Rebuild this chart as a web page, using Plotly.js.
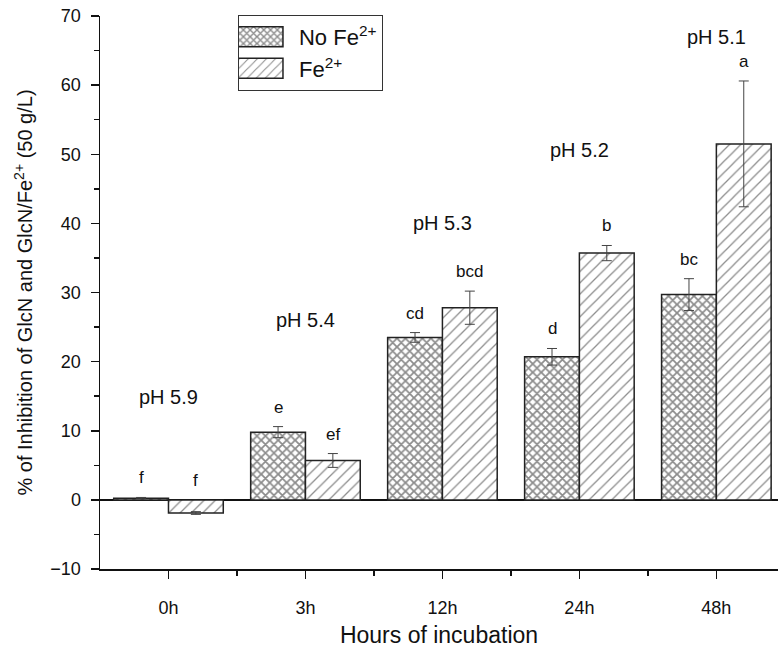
<!DOCTYPE html>
<html>
<head>
<meta charset="utf-8">
<script src="https://cdn.plot.ly/plotly-3.0.1.min.js"></script>
<style>html,body{margin:0;padding:0;background:#fff;overflow:hidden}</style>
</head>
<body>
<div id="chart" style="width:778px;height:654px"></div>
<script>
const categories = ["0h", "3h", "12h", "24h", "48h"];
const noFeValues = [0.25, 9.8, 23.5, 20.7, 29.7];
const noFeErrors = [0.1, 0.8, 0.7, 1.2, 2.3];
const feValues = [-1.9, 5.7, 27.8, 35.7, 51.5];
const feErrors = [0.2, 1.0, 2.4, 1.1, 9.1];
const noFeLetters = ["f", "e", "cd", "d", "bc"];
const feLetters = ["f", "ef", "bcd", "b", "a"];
const phLabels = ["pH 5.9", "pH 5.4", "pH 5.3", "pH 5.2", "pH 5.1"];
const phHeights = [14.9, 26, 40, 50.6, 67];

const FONT = "Liberation Sans, Arial, sans-serif";
const xIdx = categories.map((c, i) => i);

const traces = [
  {
    type: "bar", name: "No Fe<sup>2+</sup>", x: xIdx, y: noFeValues,
    marker: {color: "white", line: {color: "#222", width: 1.5},
      pattern: {shape: "x", size: 6, solidity: 0.5, fgcolor: "#1a1a1a", bgcolor: "white", fillmode: "overlay"}},
    error_y: {type: "data", array: noFeErrors, visible: true, color: "#444", thickness: 1, width: 5}
  },
  {
    type: "bar", name: "Fe<sup>2+</sup>", x: xIdx, y: feValues,
    marker: {color: "white", line: {color: "#222", width: 1.5},
      pattern: {shape: "/", size: 8, solidity: 0.16, fgcolor: "#1a1a1a", bgcolor: "white", fillmode: "overlay"}},
    error_y: {type: "data", array: feErrors, visible: true, color: "#444", thickness: 1, width: 5}
  }
];

const annotations = [];
categories.forEach((c, i) => {
  annotations.push({x: i - 0.2, y: noFeValues[i] + noFeErrors[i], yanchor: "bottom", yshift: 8,
    text: noFeLetters[i], showarrow: false, font: {family: FONT, size: 17, color: "#111"}});
  annotations.push({x: i + 0.2, y: Math.max(feValues[i], 0) + (feValues[i] > 0 ? feErrors[i] : 0), yanchor: "bottom", yshift: 8,
    text: feLetters[i], showarrow: false, font: {family: FONT, size: 17, color: "#111"}});
  annotations.push({x: i, y: phHeights[i], text: phLabels[i], showarrow: false,
    font: {family: FONT, size: 20, color: "#111"}});
});

const layout = {
  width: 778, height: 654,
  margin: {l: 100, r: 0, t: 16, b: 85},
  paper_bgcolor: "white", plot_bgcolor: "white",
  font: {family: FONT, color: "#111"},
  barmode: "group", bargap: 0.2, bargroupgap: 0,
  showlegend: true,
  legend: {x: 0.2035, y: 1.002, xanchor: "left", yanchor: "top", bordercolor: "#333", borderwidth: 1,
    bgcolor: "white", font: {family: FONT, size: 22, color: "#111"}, itemwidth: 50, tracegroupgap: 0},
  xaxis: {
    range: [-0.5, 4.45], tickmode: "array", tickvals: xIdx, ticktext: categories,
    showline: true, linecolor: "#111", linewidth: 1.5, ticks: "outside", ticklen: 8, tickwidth: 1.5, tickcolor: "#111",
    showgrid: false, zeroline: false, tickfont: {family: FONT, size: 18, color: "#111"}, ticklabelstandoff: 14,
    minor: {tickmode: "array", tickvals: [0.5, 1.5, 2.5, 3.5], ticks: "outside", ticklen: 5, tickwidth: 1.5, tickcolor: "#111", showgrid: false},
    title: {text: "Hours of incubation", font: {family: FONT, size: 23, color: "#111"}, standoff: 10}
  },
  yaxis: {
    range: [-10, 70], dtick: 10, tick0: 0,
    showline: true, linecolor: "#111", linewidth: 1.5, ticks: "outside", ticklen: 8, tickwidth: 1.5, tickcolor: "#111",
    showgrid: false, zeroline: true, zerolinecolor: "#111", zerolinewidth: 1.5,
    tickfont: {family: FONT, size: 18, color: "#111"}, ticklabelstandoff: 6,
    minor: {dtick: 5, ticks: "outside", ticklen: 5, tickwidth: 1.5, tickcolor: "#111", showgrid: false},
    title: {text: "% of Inhibition of GlcN and GlcN/Fe<sup>2+</sup> (50 g/L)", font: {family: FONT, size: 20, color: "#111"}, standoff: 12}
  },
  annotations: annotations
};

Plotly.newPlot("chart", traces, layout, {displayModeBar: false, staticPlot: true}).then(() => {
  document.querySelectorAll(".legend .legendpoints path").forEach(p => {
    p.setAttribute("d", "M-26,-10H26V10H-26Z");
    p.setAttribute("transform", "translate(18,0)");
  });
});
</script>
</body>
</html>
